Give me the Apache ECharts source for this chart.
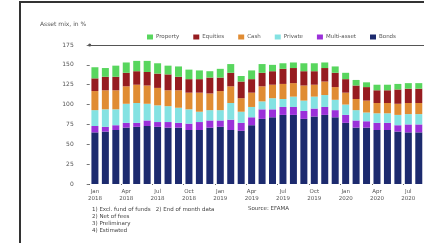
<!DOCTYPE html>
<html>
<head>
<meta charset="utf-8">
<script src="https://cdn.jsdelivr.net/npm/echarts@6/dist/echarts.min.js"></script>
<style>
  html, body { margin: 0; padding: 0; background: #fff; }
  #main { width: 424px; height: 243px; }
</style>
</head>
<body>
<div id="main"></div>
<script>
var chartDom = document.getElementById('main');
var myChart = echarts.init(chartDom);

// 月份标签（两行：月 / 年）
var months = ['Jan\n2018', 'Feb', 'Mar', 'Apr\n2018', 'May', 'Jun', 'Jul\n2018', 'Aug', 'Sep', 'Oct\n2018', 'Nov', 'Dec',
              'Jan\n2019', 'Feb', 'Mar', 'Apr\n2019', 'May', 'Jun', 'Jul\n2019', 'Aug', 'Sep', 'Oct\n2019', 'Nov', 'Dec',
              'Jan\n2020', 'Feb', 'Mar', 'Apr\n2020', 'May', 'Jun', 'Jul\n2020', 'Aug'];
var yTicks = [0, 25, 50, 75, 100, 125, 150, 175];

// 各类资产（从下往上堆叠）
var bonds      = [65, 66, 68, 71, 72, 73, 72, 71, 71, 68, 68, 71, 72, 68, 67, 74, 82, 84, 87, 87, 82, 85, 87, 84, 77, 71, 71, 68, 68, 66, 65, 65];
var multiAsset = [8, 6, 6, 6, 5, 7, 6, 7, 6, 8, 10, 9, 8, 13, 10, 10, 12, 10, 10, 10, 10, 10, 10, 9, 10, 9, 8, 9, 9, 8, 10, 10];
var privateEq  = [20, 22, 20, 24, 25, 21, 21, 20, 19, 18, 13, 13, 13, 21, 14, 13, 10, 14, 10, 13, 13, 15, 15, 13, 13, 13, 11, 12, 12, 13, 13, 13];
var cash       = [24, 24, 24, 22, 23, 23, 22, 20, 22, 21, 24, 21, 24, 21, 17, 18, 19, 17, 19, 17, 19, 15, 17, 16, 15, 14, 15, 13, 13, 14, 14, 14];
var equities   = [16, 17, 17, 17, 17, 17, 18, 20, 17, 17, 17, 20, 17, 17, 21, 17, 17, 17, 19, 19, 18, 17, 17, 18, 17, 17, 17, 16, 16, 18, 18, 18];
var property   = [14, 11, 14, 13, 13, 14, 13, 11, 13, 12, 11, 8, 11, 11, 7, 11, 11, 8, 7, 7, 10, 10, 7, 8, 8, 7, 6, 7, 7, 7, 7, 7];

var seriesNames = ['Property', 'Equities', 'Cash', 'Private', 'Multi-asset', 'Bonds'];
var colors = {
    'Bonds': '#1c2a6e',
    'Multi-asset': '#9b30d9',
    'Private': '#84e2e2',
    'Cash': '#e08c33',
    'Equities': '#961c20',
    'Property': '#58d65e'
};

var stackData = [
    ['Bonds', bonds],
    ['Multi-asset', multiAsset],
    ['Private', privateEq],
    ['Cash', cash],
    ['Equities', equities],
    ['Property', property]
];

var series = stackData.map(function (d) {
    return {
        name: d[0],
        type: 'bar',
        stack: 'total',
        barWidth: 7,
        data: d[1],
        itemStyle: { color: colors[d[0]] }
    };
});
// 顶部那条线
series[series.length - 1].markLine = {
    silent: true,
    symbol: ['circle', 'none'],
    symbolSize: 3,
    label: { show: false },
    lineStyle: { color: '#555', type: 'solid', width: 1 },
    data: [{ yAxis: yTicks[yTicks.length - 1] }]
};

var option = {
    animation: false,
    graphic: [{
        type: 'rect',
        shape: { x: 20, y: 2, width: 440, height: 280 },
        style: { fill: 'none', stroke: '#333', lineWidth: 2 },
        silent: true
    }, {
        type: 'text',
        left: 40,
        top: 21,
        style: { text: 'Asset mix, in %', fontSize: 6, fill: '#555', fontFamily: 'DejaVu Sans' }
    }, {
        type: 'text',
        left: 92,
        top: 206,
        style: {
            text: '1) Excl. fund of funds   2) End of month data\n2) Net of fees\n3) Preliminary\n4) Estimated',
            fontSize: 5.5, lineHeight: 7, fill: '#444', fontFamily: 'DejaVu Sans'
        }
    }, {
        type: 'text',
        left: 248,
        top: 206,
        style: { text: 'Source: EFAMA', fontSize: 5.5, fill: '#444', fontFamily: 'DejaVu Sans' }
    }],
    legend: {
        data: seriesNames,
        left: 142,
        top: 29,
        itemWidth: 6,
        itemHeight: 5,
        itemGap: 14,
        icon: 'rect',
        textStyle: { fontSize: 5.5, color: '#555', fontFamily: 'DejaVu Sans', padding: [0, 0, 0, -2] }
    },
    grid: {
        left: 89.7,
        right: -15,
        top: 45,
        bottom: 59,
        containLabel: false
    },
    xAxis: {
        type: 'category',
        data: months,
        axisLine: { show: false },
        axisTick: { show: true, length: 1, interval: 2, lineStyle: { color: '#666' } },
        axisLabel: {
            fontSize: 5.5,
            color: '#555',
            interval: 2,
            margin: 4,
            lineHeight: 7,
            fontFamily: 'DejaVu Sans'
        }
    },
    yAxis: {
        type: 'value',
        min: 0,
        max: yTicks[yTicks.length - 1],
        interval: 25,
        axisLine: { show: false },
        axisTick: { show: true, length: 3, lineStyle: { color: '#777' } },
        splitLine: { show: false },
        axisLabel: { fontSize: 6, color: '#555', margin: 16, fontFamily: 'DejaVu Sans' }
    },
    series: series
};

myChart.setOption(option);
</script>
</body>
</html>
